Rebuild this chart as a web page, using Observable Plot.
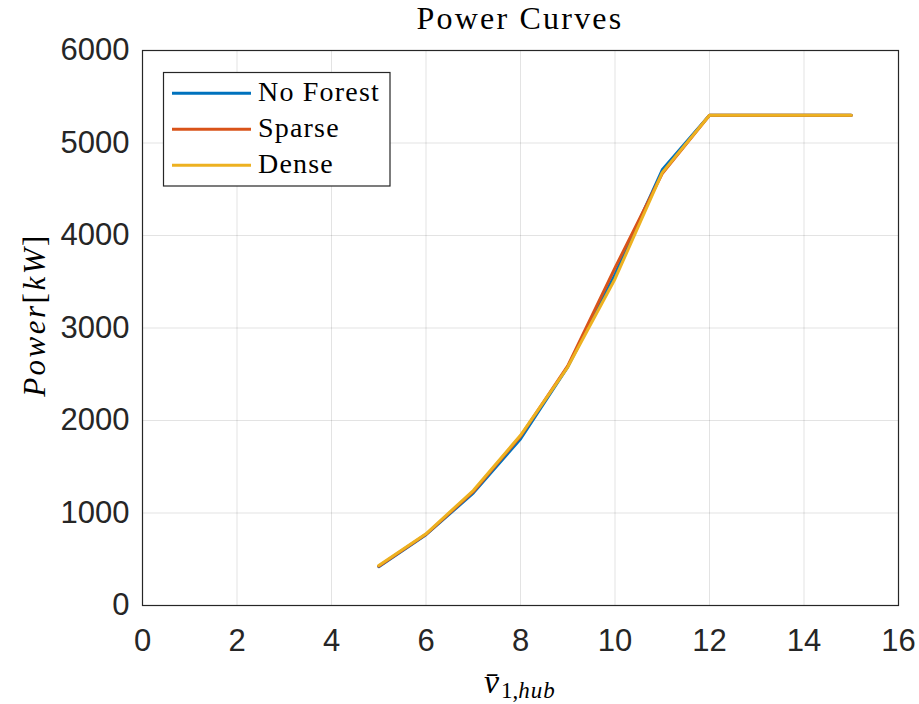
<!DOCTYPE html>
<html>
<head>
<meta charset="utf-8">
<script src="https://cdn.jsdelivr.net/npm/d3@7"></script>
<script src="https://cdn.jsdelivr.net/npm/@observablehq/plot@0.6"></script>
<style>
  body { margin: 0; background: #fff; }
  #wrap { position: relative; width: 919px; height: 704px; }
  #title { height: 30px; width: 1040px; text-align: center; font-family: "Liberation Serif", serif;
           font-size: 32px; line-height: 36px; letter-spacing: 2.2px; color: #000; white-space: nowrap; }
</style>
</head>
<body>
<div id="wrap">
  <div id="title">Power Curves</div>
  <div id="chart"></div>
</div>
<script>
// ---- data ----
const windSpeed = [5, 6, 7, 8, 9, 10, 11, 12, 13, 14, 15];
const noForest  = [420, 765, 1215, 1800, 2580, 3580, 4710, 5300, 5300, 5300, 5300];
const sparse    = [425, 770, 1230, 1830, 2590, 3650, 4670, 5300, 5300, 5300, 5300];
const dense     = [432, 775, 1243, 1840, 2578, 3530, 4680, 5300, 5300, 5300, 5300];
const seriesNames  = ["No Forest", "Sparse", "Dense"];
const seriesColors = ["#0072BD", "#D95319", "#EDB120"];
const xTicks = [0, 2, 4, 6, 8, 10, 12, 14, 16];
const yTicks = [0, 1000, 2000, 3000, 4000, 5000, 6000];

const seriesValues = [noForest, sparse, dense];
const rows = seriesNames.flatMap((name, i) =>
  windSpeed.map((v, j) => ({series: name, v, p: seriesValues[i][j]})));

const axisColor = "#262626";

const plot = Plot.plot({
  width: 919,
  height: 674,
  marginLeft: 142,
  marginRight: 21,
  marginTop: 20,
  marginBottom: 99,
  style: {fontFamily: "'Liberation Sans', Arial, sans-serif", fontSize: "31px", color: axisColor, background: "#fff"},
  x: {domain: [0, 16], ticks: xTicks},
  y: {domain: [0, 6000], ticks: yTicks},
  color: {domain: seriesNames, range: seriesColors},
  marks: [
    Plot.gridX(xTicks, {stroke: axisColor, strokeOpacity: 0.13}),
    Plot.gridY(yTicks, {stroke: axisColor, strokeOpacity: 0.13}),
    Plot.axisX(xTicks, {tickSize: 0, tickPadding: 23, label: null, fill: axisColor, fontSize: 31}),
    Plot.axisY(yTicks, {tickSize: 0, tickPadding: 13, label: null, fill: axisColor, fontSize: 31, tickFormat: d => String(d)}),
    Plot.line(rows, {x: "v", y: "p", z: "series", stroke: "series", strokeWidth: 3, strokeLinejoin: "miter"}),
    Plot.frame({stroke: axisColor, strokeWidth: 1.2})
  ]
});
document.getElementById("chart").appendChild(plot);

const svg = d3.select(plot);

// y label: Power[kW]
const yl = svg.append("text")
  .attr("transform", "translate(45,285) rotate(-90)")
  .attr("text-anchor", "middle")
  .attr("font-family", "'Liberation Serif', serif")
  .attr("font-size", 31)
  .attr("letter-spacing", 2.5)
  .attr("fill", "#000");
yl.append("tspan").attr("font-style", "italic").text("Power");
yl.append("tspan").text("[");
yl.append("tspan").attr("font-style", "italic").text("kW");
yl.append("tspan").text("]");

// x label: v̄_{1,hub}
const xl = svg.append("text")
  .attr("x", 484).attr("y", 663)
  .attr("text-anchor", "start")
  .attr("font-family", "'Liberation Serif', serif")
  .attr("fill", "#000");
xl.append("tspan").attr("font-size", 34).attr("font-style", "italic").text("v\u0304");
xl.append("tspan").attr("font-size", 23).attr("dy", 5).attr("dx", 2).text("1,");
xl.append("tspan").attr("font-size", 23).attr("font-style", "italic").attr("letter-spacing", 1).text("hub");

// legend
const lg = svg.append("g");
lg.append("rect").attr("x", 163.5).attr("y", 42.5).attr("width", 226.5).attr("height", 113.5)
  .attr("fill", "#fff").attr("stroke", "#262626").attr("stroke-width", 1.2);
const lineYs = [63.3, 99.3, 135.3];
const textYs = [71, 106.5, 142.5];
seriesNames.forEach((name, i) => {
  lg.append("line").attr("x1", 172).attr("x2", 251).attr("y1", lineYs[i]).attr("y2", lineYs[i])
    .attr("stroke", seriesColors[i]).attr("stroke-width", 3);
  lg.append("text").attr("x", 258).attr("y", textYs[i])
    .attr("text-anchor", "start")
    .attr("font-family", "'Liberation Serif', serif").attr("font-size", 28)
    .attr("letter-spacing", 1.2).attr("fill", "#000").text(name);
});
</script>
</body>
</html>
